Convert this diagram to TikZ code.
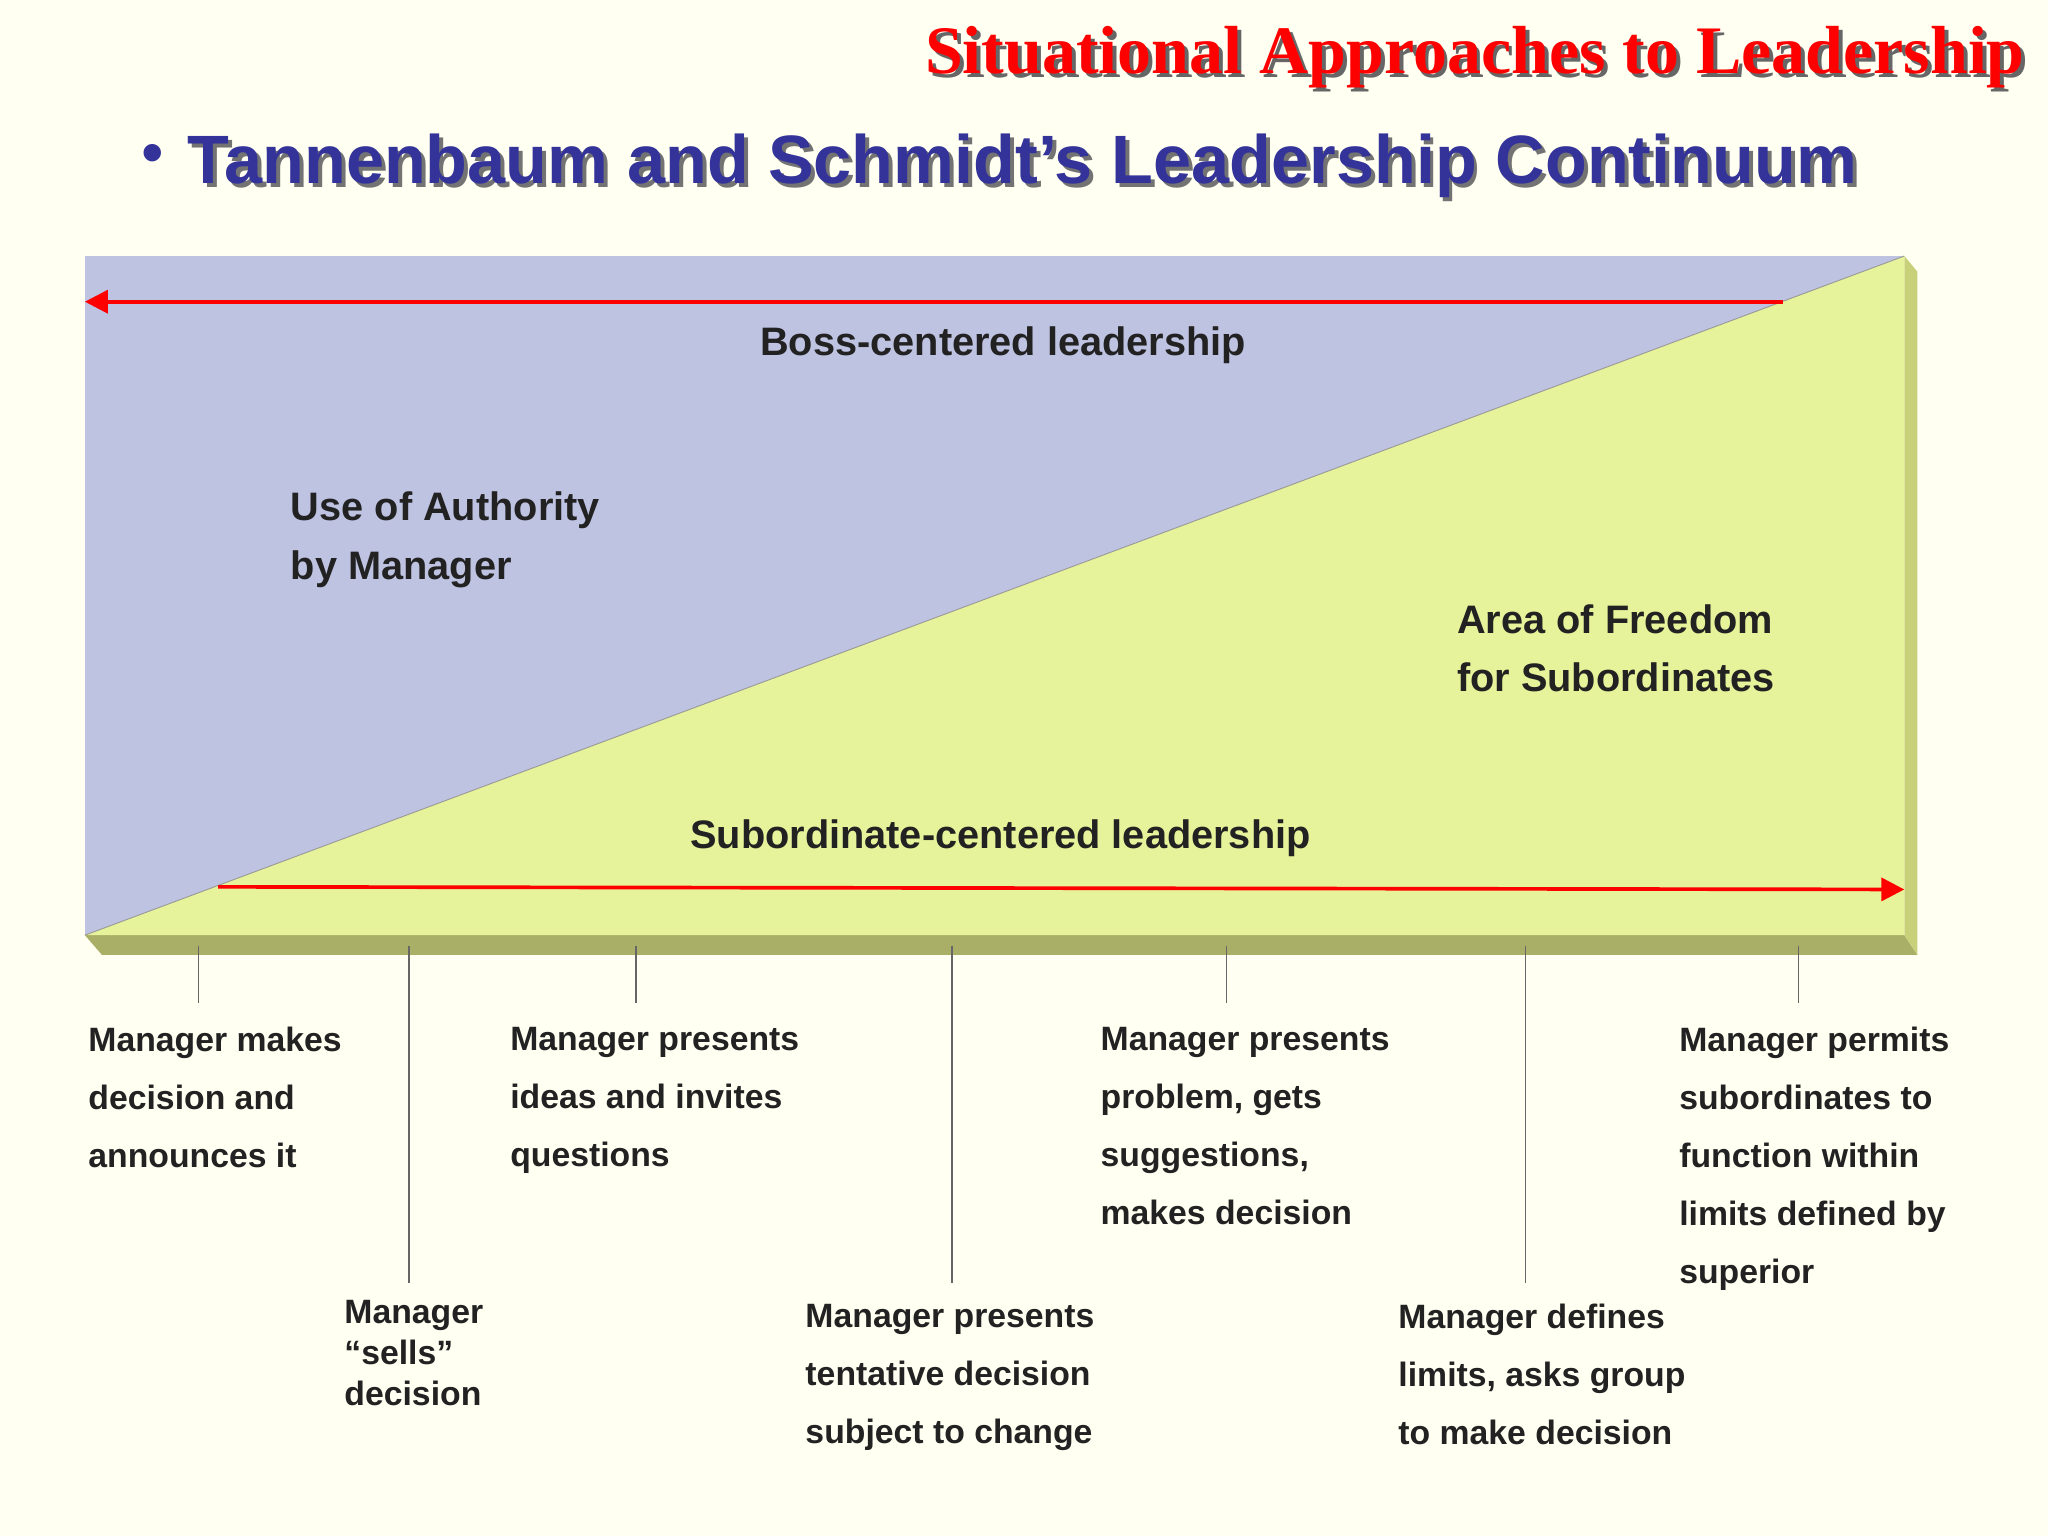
\documentclass[tikz,border=0pt]{standalone}
\usepackage{fontspec}
\setmainfont{Liberation Sans}
\newfontfamily\titlefont{Liberation Serif}
\usetikzlibrary{arrows.meta}
\definecolor{bgc}{HTML}{FFFFF2}
\definecolor{bossc}{HTML}{BFC3E2}
\definecolor{freec}{HTML}{E6F39A}
\definecolor{sidec}{HTML}{C9D07A}
\definecolor{botc}{HTML}{A9AF66}
\definecolor{navy}{HTML}{33339A}
\definecolor{txt}{HTML}{222222}
\tikzset{
  lab/.style={anchor=north west,inner sep=0pt,align=left,text=txt,font=\fontsize{7.35}{12.6}\selectfont\bfseries},
  big/.style={inner sep=0pt,text=txt,font=\fontsize{8.65}{12.8}\selectfont\bfseries},
  tick/.style={draw=gray!80!black,line width=0.3pt},
  redarrow/.style={draw=red,line width=0.8pt,-{Triangle[length=5pt,width=5pt]}}
}
\begin{document}
\begin{tikzpicture}[x=0.01cm,y=-0.01cm]
\fill[bgc] (0,0) rectangle (1568,1176);
\useasboundingbox (0,0) rectangle (1568,1176);
% title
\node[inner sep=0pt,text=black!60,font=\titlefont\fontsize{14.8}{18}\selectfont\bfseries,anchor=east] (tsh) at (1554,47) {Situational Approaches to Leadership};
\node[inner sep=0pt,text=red,font=\titlefont\fontsize{14.8}{18}\selectfont\bfseries,anchor=east] (title) at (1551,44) {Situational Approaches to Leadership};
\node[text=navy,font=\fontsize{14}{16}\selectfont,anchor=center] (bul) at (117,122) {•};
\node[inner sep=0pt,text=black!55,font=\fontsize{14.9}{18}\selectfont\bfseries,anchor=west] (ssh) at (146,130) {Tannenbaum and Schmidt’s Leadership Continuum};
\node[inner sep=0pt,text=navy,font=\fontsize{14.9}{18}\selectfont\bfseries,anchor=west] (sub) at (143,127) {Tannenbaum and Schmidt’s Leadership Continuum};
% 3D sides
\fill[botc] (65,716) -- (1458,716) -- (1468,731) -- (78,731) -- cycle;
\fill[sidec] (1458,196) -- (1468,208) -- (1468,731) -- (1458,716) -- cycle;
% areas
\fill[bossc] (65,196) rectangle (1458,716);
\fill[freec] (65,716) -- (1458,196) -- (1458,716) -- cycle;
\draw[black!40,line width=0.2pt] (65,716) -- (1458,196);
% arrows
\coordinate (a1) at (1365,231); \coordinate (a2) at (65,231);
\draw[redarrow] (a1) -- (a2);
\coordinate (b1) at (167,679); \coordinate (b2) at (1458,681);
\draw[redarrow] (b1) -- (b2);
\node[big] (boss) at (768,264) {Boss-centered leadership};
\node[big] (subc) at (766,642) {Subordinate-centered leadership};
\node[big,anchor=north west,align=left] (auth) at (222,376) {Use of Authority\\by Manager};
\node[big,anchor=north west,align=left] (free) at (1115,462) {Area of Freedom\\for Subordinates};
% ticks
\foreach \x/\y/\n in {152/768/t1,313/982/t2,487/768/t3,729/982/t4,939/768/t5,1168/982/t6,1377/768/t7}{
  \coordinate (\n a) at (\x,724); \coordinate (\n b) at (\x,\y);
  \draw[tick] (\n a) -- (\n b);
}
% labels
\node[lab] (l1) at (67,786) {Manager makes\\decision and\\announces it};
\node[lab,font=\fontsize{7.35}{8.9}\selectfont\bfseries] (l2) at (263,995) {Manager\\“sells”\\decision};
\node[lab] (l3) at (390,786) {Manager presents\\ideas and invites\\questions};
\node[lab] (l4) at (616,998) {Manager presents\\tentative decision\\subject to change};
\node[lab] (l5) at (842,786) {Manager presents\\problem, gets\\suggestions,\\makes decision};
\node[lab] (l6) at (1070,998) {Manager defines\\limits, asks group\\to make decision};
\node[lab] (l7) at (1285,786) {Manager permits\\subordinates to\\function within\\limits defined by\\superior};
\end{tikzpicture}
\end{document}
